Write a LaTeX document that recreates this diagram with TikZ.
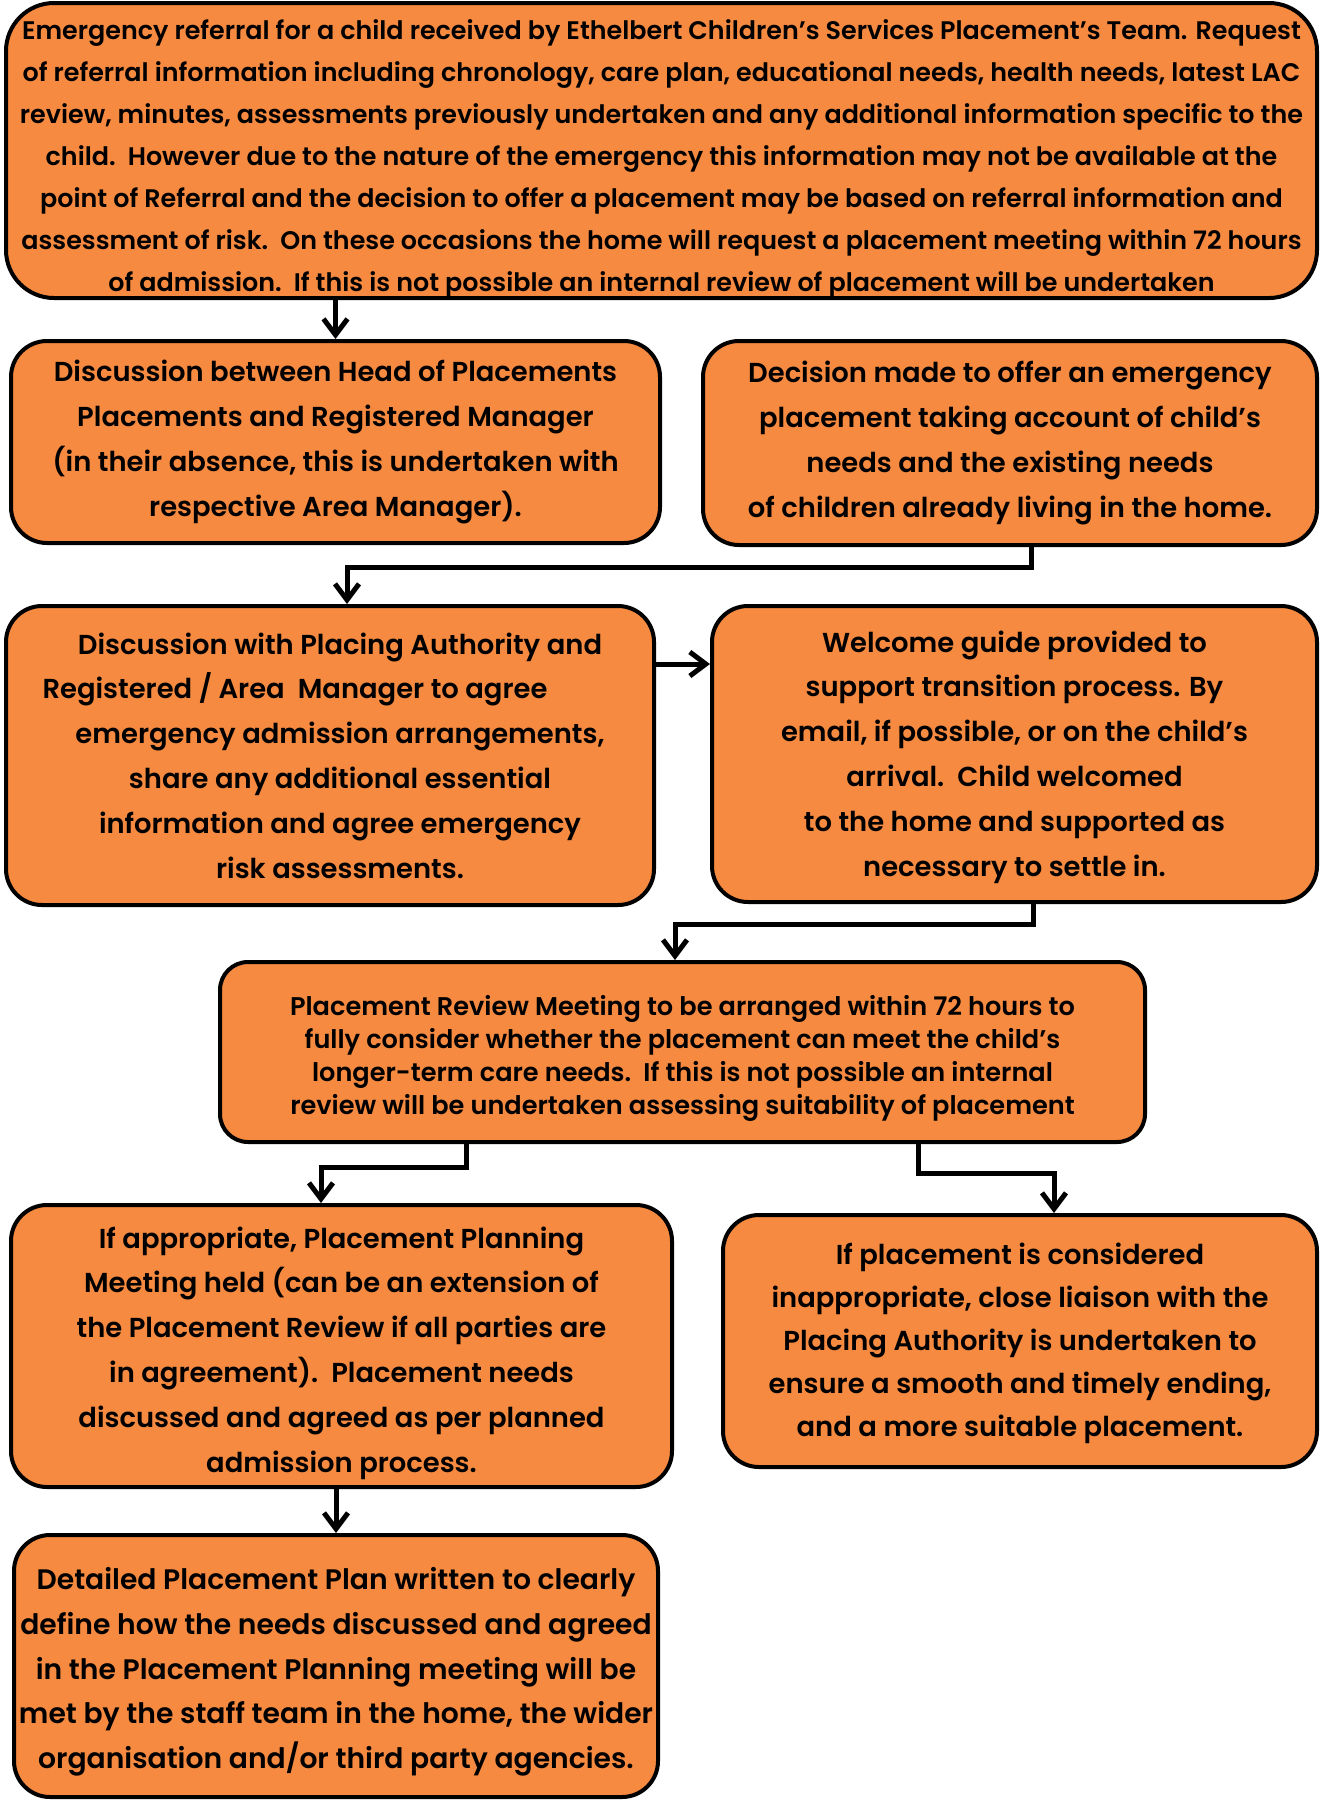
\documentclass[tikz,border=0pt]{standalone}
\usepackage{fontspec}
\setmainfont{Poppins SemiBold}
\usetikzlibrary{arrows.meta, positioning}

\definecolor{boxorange}{HTML}{F68A40}
% first line strut: pushes the text block down by #1
\newcommand{\dropby}[1]{\rule{0pt}{\dimexpr\fontcharht\font`d+2\dimexpr#1\relax\relax}}

\begin{document}
\begin{tikzpicture}[x=0.5pt, y=-0.5pt]
	\tikzset{
		flowbox/.style={
			draw=black,
			line width=2pt,
			fill=boxorange,
			rounded corners=18pt,
			align=center,
			inner sep=0pt,
			font=\fontsize{13.7}{22.4}\selectfont
		},
		link/.style={
			line width=2.5pt,
			-{Straight Barb[length=8pt,width=12pt]}
		},
	}
	\useasboundingbox (0,0) rectangle (1319,1800);

	\node[flowbox, rounded corners=24pt, minimum width=655.5pt, minimum height=147.5pt,
		font=\fontsize{12.7}{21}\selectfont] (referral) at (661.5,150.5)
		{\dropby{4.5pt}Emergency referral for a child received by Ethelbert Children's Services Placement's Team. Request\\
		of referral information including chronology, care plan, educational needs, health needs, latest LAC\\
		review, minutes, assessments previously undertaken and any additional information specific to the\\
		child.\ \ However due to the nature of the emergency this information may not be available at the\\
		point of Referral and the decision to offer a placement may be based on referral information and\\
		assessment of risk.\ \ On these occasions the home will request a placement meeting within 72 hours\\
		of admission.\ \ If this is not possible an internal review of placement will be undertaken};
	\node[flowbox, minimum width=324.5pt, minimum height=101pt] (discuss) at (335.5,442)
		{Discussion between Head of Placements\\
		Placements and Registered Manager\\
		(in their absence, this is undertaken with\\
		respective Area Manager).};
	\node[flowbox, minimum width=307pt, minimum height=102pt] (decision) at (1010,443)
		{Decision made to offer an emergency\\
		placement taking account of child's\\
		needs and the existing needs\\
		of children already living in the home.};
	\node[flowbox, minimum width=324pt, minimum height=149.5pt] (agree) at (330,755.5)
		{\makebox[10pt]{}Discussion with Placing Authority and\\
		Registered / Area\ \ Manager to agree\makebox[35pt]{}\\
		\makebox[10pt]{}emergency admission arrangements,\\
		\makebox[10pt]{}share any additional essential\\
		\makebox[10pt]{}information and agree emergency\\
		\makebox[10pt]{}risk assessments.};
	\node[flowbox, minimum width=302.5pt, minimum height=148pt] (welcome) at (1014.5,754)
		{\dropby{2pt}Welcome guide provided to\\
		support transition process. By\\
		email, if possible, or on the child's\\
		arrival.\ \ Child welcomed\\
		to the home and supported as\\
		necessary to settle in.};
	\node[flowbox, rounded corners=14pt, minimum width=462.5pt, minimum height=90pt,
		font=\fontsize{12.8}{16.5}\selectfont] (review) at (682.5,1052)
		{\dropby{4pt}Placement Review Meeting to be arranged within 72 hours to\\
		fully consider whether the placement can meet the child's\\
		longer-term care needs.\ \ If this is not possible an internal\\
		review will be undertaken assessing suitability of placement};
	\node[flowbox, minimum width=330.5pt, minimum height=141pt] (planning) at (341.5,1346)
		{\dropby{4pt}If appropriate, Placement Planning\\
		Meeting held (can be an extension of\\
		the Placement Review if all parties are\\
		in agreement).\ \ Placement needs\\
		discussed and agreed as per planned\\
		admission process.};
	\node[flowbox, minimum width=297pt, minimum height=126pt,
		font=\fontsize{13.7}{21.5}\selectfont] (ending) at (1020,1341)
		{\dropby{1.5pt}If placement is considered\\
		inappropriate, close liaison with the\\
		Placing Authority is undertaken to\\
		ensure a smooth and timely ending,\\
		and a more suitable placement.};
	\node[flowbox, minimum width=322pt, minimum height=131pt,
		font=\fontsize{14.1}{22.4}\selectfont] (plan) at (336,1666)
		{\dropby{3.5pt}Detailed Placement Plan written to clearly\\
		define how the needs discussed and agreed\\
		in the Placement Planning meeting will be\\
		met by the staff team in the home, the wider\\
		organisation and/or third party agencies.};

	\draw[link] (discuss.north |- referral.south) -- (discuss.north);
	\draw[link] ([xshift=10.5pt]decision.south) -- ++(0,20) -| ([xshift=8.5pt]agree.north);
	\draw[link] ([yshift=45.75pt]agree.east) -- ([yshift=45.75pt]agree.east -| welcome.west);
	\draw[link] ([xshift=9.25pt]welcome.south) -- ++(0,20) -| ([xshift=-3.75pt]review.north);
	\draw[link] ([xshift=-108.25pt]review.south) -- ++(0,23) -| ([xshift=-10.25pt]planning.north);
	\draw[link] ([xshift=117.75pt]review.south) -- ++(0,29) -| ([xshift=17pt]ending.north);
	\draw[link] (plan.north |- planning.south) -- (plan.north);
\end{tikzpicture}
\end{document}
